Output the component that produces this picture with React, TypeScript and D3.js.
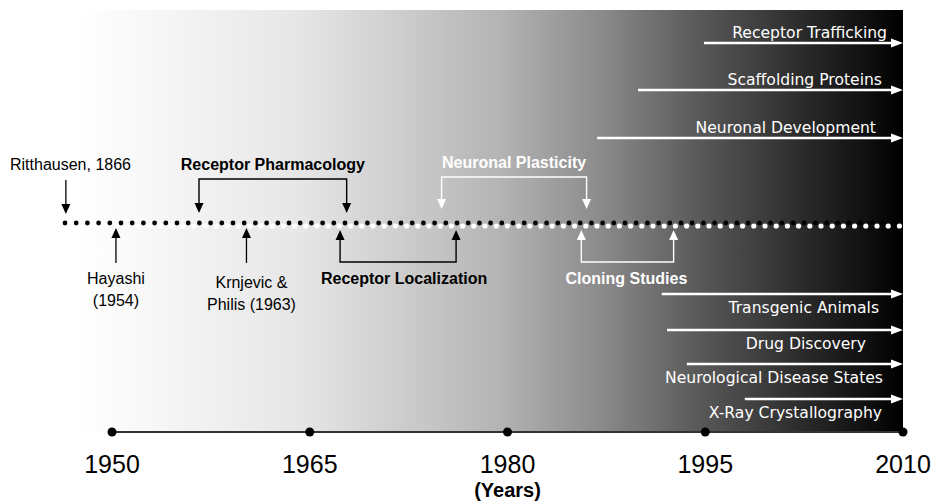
import React from "react";
import * as d3 from "d3";

// axis years shown under the timeline
const axisYears = [1950, 1965, 1980, 1995, 2010];

// single pointers onto the dotted line (year = position on the time scale)
const pointerLabels = [["Ritthausen, 1866"], ["Hayashi", "(1954)"], ["Krnjevic &", "Philis (1963)"]];
const pointerYears = [1946.5, 1950.3, 1960.2];
const pointerSides = ["above", "below", "below"];

// bracket spans
const bracketLabels = ["Receptor Pharmacology", "Receptor Localization", "Neuronal Plasticity", "Cloning Studies"];
const bracketStarts = [1956.6, 1967.3, 1975.0, 1985.6];
const bracketEnds = [1967.8, 1976.1, 1986.0, 1992.6];
const bracketSides = ["above", "below", "above", "below"];
const bracketTones = ["dark", "dark", "light", "light"];

// open-ended research areas (start year -> 2010)
const areaLabels = ["Receptor Trafficking", "Scaffolding Proteins", "Neuronal Development", "Transgenic Animals", "Drug Discovery", "Neurological Disease States", "X-Ray Crystallography"];
const areaStarts = [1994.9, 1989.9, 1986.8, 1991.7, 1992.1, 1993.6, 1998.0];
const areaRows = ["top", "top", "top", "bottom", "bottom", "bottom", "bottom"];

const W = 935;
const H = 501;

function App() {
  const x = d3.scaleLinear().domain([1950, 2010]).range([112, 903]);
  const lineY = 223;
  const axisY = 432;
  const bandLeft = 79;
  const bandTop = 10;
  const arial = "'Liberation Sans', Arial, sans-serif";
  const comic = "'Comic Sans MS', 'DejaVu Sans', sans-serif";

  const head = (px: number, py: number, dir: string, fill: string, key?: string) => {
    let pts;
    if (dir === "down") pts = [[px - 4.5, py - 10], [px + 4.5, py - 10], [px, py]];
    else if (dir === "up") pts = [[px - 4.5, py + 10], [px + 4.5, py + 10], [px, py]];
    else pts = [[px - 12, py - 4.5], [px - 12, py + 4.5], [px, py]];
    return <polygon key={key} points={pts.map((p) => p.join(",")).join(" ")} fill={fill} />;
  };

  // dots along the timeline
  const dotStep = 11.2;
  const blackDots = d3.range(65, 904, dotStep);
  const whiteDots = d3.range(65 + dotStep / 2, 904, dotStep);

  const topRowY = [43, 90, 138];
  const bottomRowY = [294, 330, 364, 399];

  return (
    <svg width={W} height={H} style={{ position: "absolute", left: 0, top: 0, background: "#fff" }}>
      <defs>
        <linearGradient id="band" x1="0" x2="1" y1="0" y2="0">
          <stop offset="0" stopColor="#ffffff" />
          <stop offset="0.27" stopColor="#e6e6e6" />
          <stop offset="0.51" stopColor="#b4b4b4" />
          <stop offset="0.63" stopColor="#8c8c8c" />
          <stop offset="0.75" stopColor="#5a5a5a" />
          <stop offset="0.875" stopColor="#2c2c2c" />
          <stop offset="1" stopColor="#000000" />
        </linearGradient>
      </defs>
      <rect x={bandLeft} y={bandTop} width={x(2010) - bandLeft} height={axisY - bandTop} fill="url(#band)" />

      {/* dotted timeline */}
      {blackDots.map((d, i) => <circle key={"b" + i} cx={d} cy={lineY} r={2.4} fill="#000" />)}
      {whiteDots.map((d, i) => <circle key={"w" + i} cx={d} cy={lineY + 3} r={2.6} fill="#fff" />)}

      {/* single pointers */}
      {pointerLabels.map((lines, i) => {
        const px = x(pointerYears[i]);
        if (pointerSides[i] === "above") {
          return (
            <g key={"p" + i}>
              <line x1={px} x2={px} y1={180} y2={206} stroke="#000" strokeWidth={1.3} />
              {head(px, 214, "down", "#000")}
              <text x={10} y={170} fontFamily={arial} fontSize={16} fill="#000">{lines[0]}</text>
            </g>
          );
        }
        return (
          <g key={"p" + i}>
            <line x1={px} x2={px} y1={263} y2={236} stroke="#000" strokeWidth={1.3} />
            {head(px, 228, "up", "#000")}
            {lines.map((t, j) => (
              <text key={j} x={px + (i === 2 ? 5 : 0)} y={284 + j * 22 + (i === 2 ? 4 : 0)} textAnchor="middle" fontFamily={arial} fontSize={16} fill="#000">{t}</text>
            ))}
          </g>
        );
      })}

      {/* brackets */}
      {bracketLabels.map((label, i) => {
        const a = x(bracketStarts[i]);
        const b = x(bracketEnds[i]);
        const col = bracketTones[i] === "dark" ? "#000" : "#fff";
        const above = bracketSides[i] === "above";
        const barY = above ? (i === 0 ? 179 : 177) : 262;
        const tipY = above ? (i === 0 ? 213 : 209) : 230;
        const baseY = above ? tipY - 9 : tipY + 9;
        const textY = above ? barY - 9 : 284;
        return (
          <g key={"k" + i}>
            <path d={`M${a},${baseY}V${barY}H${b}V${baseY}`} fill="none" stroke={col} strokeWidth={1.4} />
            {head(a, tipY, above ? "down" : "up", col)}
            {head(b, tipY, above ? "down" : "up", col)}
            <text x={(a + b) / 2 + (i === 1 ? 6 : i === 3 ? -1 : 0)} y={textY} textAnchor="middle" fontFamily={arial} fontWeight="bold" fontSize={16} fill={col}>{label}</text>
          </g>
        );
      })}

      {/* open-ended areas */}
      {areaLabels.map((label, i) => {
        const top = areaRows[i] === "top";
        const y = top ? topRowY[i] : bottomRowY[i - 3];
        const tx = [887, 882, 876, 879, 866, 883, 882][i];
        return (
          <g key={"r" + i}>
            <line x1={x(areaStarts[i])} x2={x(2010) - 8} y1={y} y2={y} stroke="#fff" strokeWidth={2.6} />
            {head(x(2010), y, "right", "#fff")}
            <text x={tx} y={top ? y - 5 : y + 19} textAnchor="end" fontFamily={comic} fontSize={15.6} fill="#fff">{label}</text>
          </g>
        );
      })}

      {/* axis */}
      <line x1={x(1950)} x2={x(2010)} y1={axisY} y2={axisY} stroke="#333" strokeWidth={2} />
      {axisYears.map((yr) => (
        <g key={yr}>
          <circle cx={x(yr)} cy={axisY} r={4.5} fill="#000" />
          <text x={x(yr)} y={473} textAnchor="middle" fontFamily={arial} fontSize={25} fill="#000">{yr}</text>
        </g>
      ))}
      <text x={x(1980)} y={497} textAnchor="middle" fontFamily={arial} fontWeight="bold" fontSize={20} fill="#000">(Years)</text>
    </svg>
  );
}

export default App;
